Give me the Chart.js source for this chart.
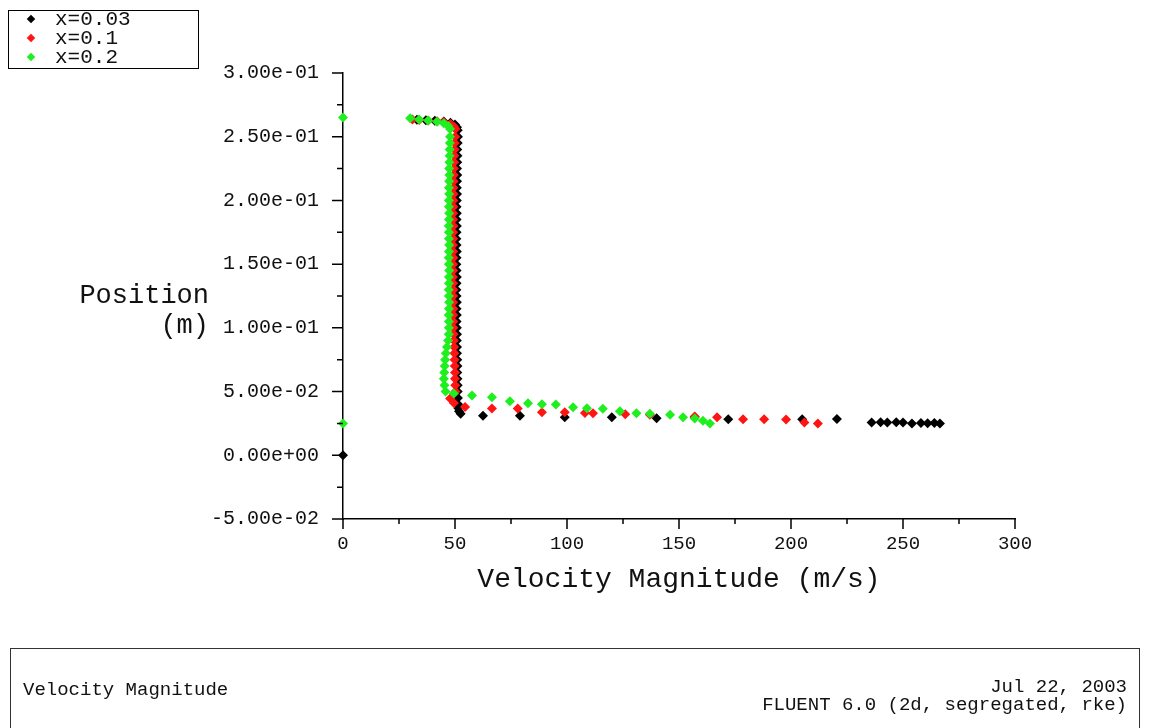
<!DOCTYPE html>
<html>
<head>
<meta charset="utf-8">
<title>Velocity Magnitude</title>
<script src="https://cdn.jsdelivr.net/npm/chart.js@4.4.1/dist/chart.umd.min.js"></script>
<style>
  html, body { margin: 0; padding: 0; background: #fff; }
  #wrap { position: relative; width: 1149px; height: 728px; overflow: hidden; }
  #chart { position: absolute; left: 0; top: 0; }
  .legend {
    position: absolute; left: 8px; top: 10px; width: 189px; height: 57px;
    border: 1.5px solid #000; font-family: "Liberation Mono", monospace; font-size: 21px; color: #111;
  }
  .legend .row { position: absolute; left: 0; width: 100%; height: 19px; line-height: 19px; }
  .legend .mark { position: absolute; left: 19px; top: 6px; width: 6px; height: 6px; transform: rotate(45deg); }
  .legend .txt { position: absolute; left: 46px; top: 0; }
  .footer {
    position: absolute; left: 10px; top: 648px; width: 1128px; height: 120px;
    border: 1.5px solid #333; font-family: "Liberation Mono", monospace; font-size: 19px; color: #111;
  }
  .footer .left { position: absolute; left: 12px; top: 30px; }
  .footer .right { position: absolute; right: 12px; top: 29px; text-align: right; line-height: 18px; }
</style>
</head>
<body>
<div id="wrap">
  <canvas id="chart" width="1149" height="728"></canvas>
  <div class="legend" id="legend"></div>
  <div class="footer">
    <div class="left">Velocity Magnitude</div>
    <div class="right">Jul 22, 2003<br>FLUENT 6.0 (2d, segregated, rke)</div>
  </div>
</div>
<script>
// series labels and colours
const seriesNames = ["x=0.03", "x=0.1", "x=0.2"];
const seriesColors = ["#000000", "#ff1414", "#1fef1f"];

// tick values
const xTicks = [0, 50, 100, 150, 200, 250, 300];
const yTicks = [-0.05, 0, 0.05, 0.1, 0.15, 0.2, 0.25, 0.3];

// [velocity (m/s), position (m)]
const pointsX003 = [
  [0, 0.0000],
  [266.5, 0.0250], [264, 0.0253], [261, 0.0251], [258, 0.0253], [254, 0.0250], [250, 0.0258],
  [247, 0.0260], [243, 0.0258], [240, 0.0260], [236, 0.0258], [220.5, 0.0285], [205, 0.0283],
  [172, 0.0283], [157, 0.0300], [140, 0.0290], [120, 0.0298], [99, 0.0298], [79, 0.0310],
  [62.5, 0.0310], [52.5, 0.0325], [51.8, 0.0345], [51.5, 0.0370],
  [51.4, 0.040], [51.3, 0.045], [51.2, 0.050], [51.2, 0.055], [51.1, 0.060], [51.0, 0.065],
  [51.1, 0.070], [51.0, 0.075], [50.9, 0.080], [50.9, 0.085], [50.8, 0.090], [50.9, 0.095],
  [50.8, 0.100], [50.7, 0.105], [50.8, 0.110], [50.7, 0.115], [50.8, 0.120], [50.7, 0.125],
  [50.6, 0.130], [50.7, 0.135], [50.8, 0.140], [50.7, 0.145], [50.6, 0.150], [50.7, 0.155],
  [50.8, 0.160], [50.7, 0.165], [50.6, 0.170], [50.7, 0.175], [50.8, 0.180], [50.7, 0.185],
  [50.8, 0.190], [50.7, 0.195], [50.8, 0.200], [50.9, 0.205], [50.8, 0.210], [50.9, 0.215],
  [51.0, 0.220], [50.9, 0.225], [51.0, 0.230], [51.1, 0.235], [51.0, 0.240], [51.2, 0.245],
  [51.3, 0.250],
  [51.2, 0.2550], [50.9, 0.2575], [50.0, 0.2595], [48, 0.2610], [45, 0.2620], [41, 0.2626],
  [37, 0.2630], [33, 0.2633]
];

const pointsX01 = [
  [212, 0.0250], [206, 0.0258], [197.8, 0.0280], [188, 0.0282], [178.6, 0.0282], [167, 0.0298],
  [157, 0.0305], [137, 0.0318], [126, 0.0322], [111.6, 0.0330], [108, 0.0332], [99, 0.0338],
  [88.8, 0.0338], [78, 0.0368], [66.5, 0.0368], [54.5, 0.0378], [49.5, 0.0410], [47.8, 0.0445],
  [50.2, 0.050], [50.1, 0.055], [50.0, 0.060], [50.0, 0.065], [49.9, 0.070], [49.8, 0.075],
  [49.7, 0.080], [49.6, 0.085], [49.5, 0.090], [49.4, 0.095], [49.3, 0.100], [49.3, 0.105],
  [49.2, 0.110], [49.3, 0.115], [49.2, 0.120], [49.2, 0.125], [49.3, 0.130], [49.2, 0.135],
  [49.1, 0.140], [49.2, 0.145], [49.2, 0.150], [49.3, 0.155], [49.2, 0.160], [49.1, 0.165],
  [49.2, 0.170], [49.2, 0.175], [49.3, 0.180], [49.2, 0.185], [49.2, 0.190], [49.3, 0.195],
  [49.3, 0.200], [49.4, 0.205], [49.3, 0.210], [49.4, 0.215], [49.5, 0.220], [49.5, 0.225],
  [49.6, 0.230], [49.7, 0.235], [49.8, 0.240], [49.9, 0.245], [50.1, 0.250],
  [50.2, 0.2560], [49.5, 0.2580], [48, 0.2600], [45, 0.2615], [42, 0.2622], [38, 0.2628],
  [34, 0.2632], [31, 0.2635]
];

const pointsX02 = [
  [0, 0.0250], [0, 0.2650],
  [163.8, 0.0250], [160.7, 0.0272], [157, 0.0288], [151.8, 0.0298], [146, 0.0318], [137, 0.0325],
  [131, 0.0330], [123.6, 0.0345], [116, 0.0365], [108.9, 0.0369], [102.7, 0.0377], [95, 0.0398],
  [88.8, 0.0400], [82.6, 0.0408], [74.5, 0.0424], [66.5, 0.0455], [57.6, 0.0470], [49.5, 0.0485],
  [45.8, 0.050], [45.3, 0.055], [45.0, 0.060], [45.2, 0.065], [45.4, 0.070], [45.6, 0.075],
  [45.9, 0.080], [46.4, 0.085], [46.9, 0.090], [47.2, 0.095], [47.3, 0.100], [47.3, 0.105],
  [47.2, 0.110], [47.3, 0.115], [47.4, 0.120], [47.3, 0.125], [47.2, 0.130], [47.3, 0.135],
  [47.3, 0.140], [47.4, 0.145], [47.3, 0.150], [47.2, 0.155], [47.3, 0.160], [47.4, 0.165],
  [47.3, 0.170], [47.3, 0.175], [47.2, 0.180], [47.3, 0.185], [47.4, 0.190], [47.3, 0.195],
  [47.3, 0.200], [47.4, 0.205], [47.3, 0.210], [47.4, 0.215], [47.5, 0.220], [47.4, 0.225],
  [47.5, 0.230], [47.6, 0.235], [47.6, 0.240], [47.7, 0.245], [47.8, 0.250],
  [47.8, 0.2560], [47, 0.2585], [45, 0.2605], [42, 0.2618], [38, 0.2628], [34, 0.2635],
  [30, 0.2645]
];

const xTitle = "Velocity Magnitude (m/s)";
const yTitle = ["Position", "(m)"];

function sci(v) {
  if (Math.abs(v) < 1e-12) return "0.00e+00";
  const parts = v.toExponential(2).split("e");
  const n = parseInt(parts[1], 10);
  return parts[0] + "e" + (n < 0 ? "-" : "+") + String(Math.abs(n)).padStart(2, "0");
}

// legend box (plain html)
const legendEl = document.getElementById("legend");
seriesNames.forEach((name, i) => {
  const row = document.createElement("div");
  row.className = "row";
  row.style.top = (i * 19 - 1) + "px";
  row.innerHTML = `<span class="mark" style="background:${seriesColors[i]}"></span><span class="txt">${name}</span>`;
  legendEl.appendChild(row);
});

// ticks + axis titles
const axisDecor = {
  id: "axisDecor",
  afterDraw(chart) {
    const { ctx, chartArea: a, scales: { x, y } } = chart;
    ctx.save();
    ctx.strokeStyle = "#000";
    ctx.lineWidth = 1.5;
    ctx.beginPath();
    xTicks.forEach((v, i) => {
      const px = x.getPixelForValue(v);
      ctx.moveTo(px, a.bottom);
      ctx.lineTo(px, a.bottom + 10);
      if (i < xTicks.length - 1) {
        const mx = x.getPixelForValue((v + xTicks[i + 1]) / 2);
        ctx.moveTo(mx, a.bottom);
        ctx.lineTo(mx, a.bottom + 5);
      }
    });
    yTicks.forEach((v, i) => {
      const py = y.getPixelForValue(v);
      ctx.moveTo(a.left, py);
      ctx.lineTo(a.left - 11, py);
      if (i < yTicks.length - 1) {
        const my = y.getPixelForValue((v + yTicks[i + 1]) / 2);
        ctx.moveTo(a.left, my);
        ctx.lineTo(a.left - 6, my);
      }
    });
    ctx.stroke();

    ctx.fillStyle = "#111";
    ctx.font = '28px "Liberation Mono", monospace';
    ctx.textAlign = "center";
    ctx.textBaseline = "middle";
    ctx.fillText(xTitle, (a.left + a.right) / 2, 580);
    ctx.font = '27px "Liberation Mono", monospace';
    ctx.textAlign = "right";
    ctx.fillText(yTitle[0], 209, 296);
    ctx.fillText(yTitle[1], 209, 326);
    ctx.restore();
  }
};

const seriesPoints = [pointsX003, pointsX01, pointsX02];
const datasets = seriesPoints.map((pts, i) => ({
  label: seriesNames[i],
  data: pts.map(p => ({ x: p[0], y: p[1] })),
  pointStyle: "rectRot",
  pointRadius: 5,
  pointBorderWidth: 0,
  backgroundColor: seriesColors[i],
  borderColor: seriesColors[i],
  showLine: false,
  clip: false,
  order: 2 - i
}));

const ctx = document.getElementById("chart").getContext("2d");
const chart = new Chart(ctx, {
  type: "scatter",
  data: { datasets },
  options: {
    responsive: false,
    animation: false,
    layout: { padding: { top: 73, right: 134, left: 0, bottom: 0 } },
    plugins: { legend: { display: false }, tooltip: { enabled: false } },
    scales: {
      x: {
        type: "linear",
        min: 0,
        max: 300,
        afterBuildTicks: s => { s.ticks = xTicks.map(v => ({ value: v })); },
        afterFit: s => { s.height = 209; },
        ticks: {
          padding: 14,
          color: "#111",
          font: { family: '"Liberation Mono", monospace', size: 19 },
          maxRotation: 0,
          callback: v => String(v)
        },
        grid: { display: true, drawOnChartArea: false, drawTicks: false },
        border: { display: true, color: "#000", width: 1.5 }
      },
      y: {
        type: "linear",
        min: -0.05,
        max: 0.3,
        afterBuildTicks: s => { s.ticks = yTicks.map(v => ({ value: v })); },
        afterFit: s => { s.width = 343; },
        ticks: {
          padding: 24,
          color: "#111",
          font: { family: '"Liberation Mono", monospace', size: 20 },
          callback: v => sci(v)
        },
        grid: { display: true, drawOnChartArea: false, drawTicks: false },
        border: { display: true, color: "#000", width: 1.5 }
      }
    }
  },
  plugins: [axisDecor]
});
</script>
</body>
</html>
